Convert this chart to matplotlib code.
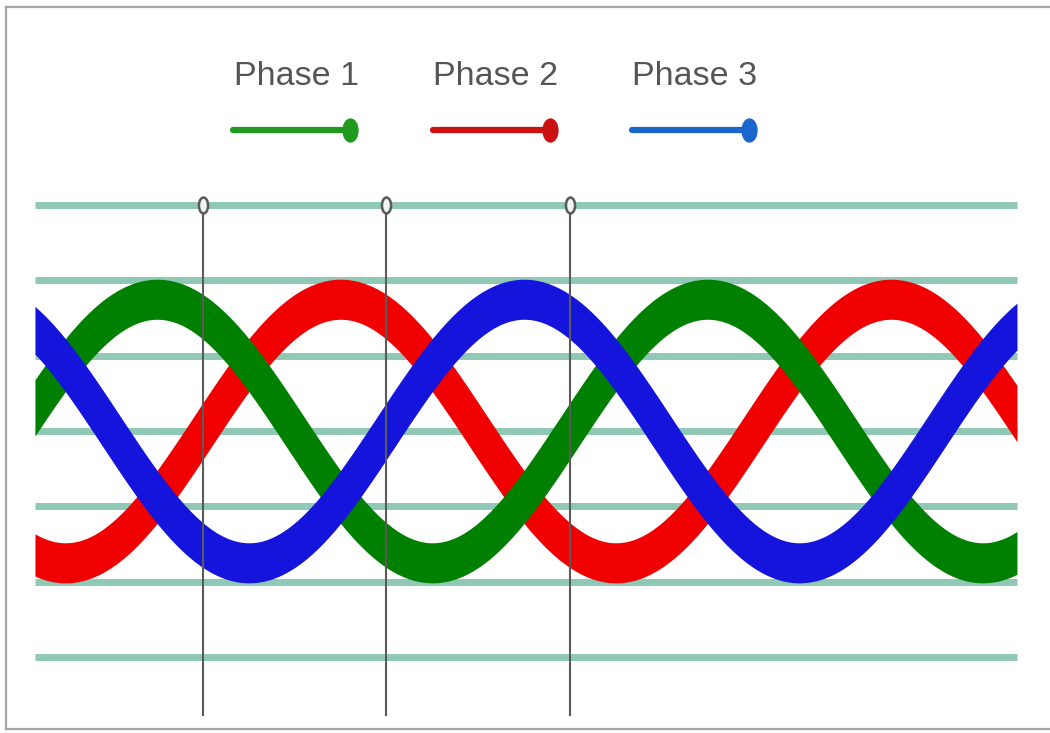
import numpy as np
import matplotlib.pyplot as plt
from matplotlib.path import Path
from matplotlib.lines import Line2D

# Data
phase_names = ['Phase 1', 'Phase 2', 'Phase 3']
phase_shift_deg = [0, 120, 240]
wave_colors = ['#008000', '#f00000', '#1414dc']
legend_colors = ['#1f9a1f', '#cc1111', '#1a66cc']
amplitude = 1.75
grid_levels = [3, 2, 1, 0, -1, -2, -3]
marker_angles = [120, 240, 360]
vline_bottom = -3.77
theta_start, theta_end = 10.1, 652.4

W, H = 1050, 733
fig = plt.figure(figsize=(W / 100, H / 100), dpi=100)
ax = fig.add_axes([0, 0, 1, 1])
ax.set_xlim(-12.75, 674)
ax.set_ylim(-4.01, 5.724)
ax.axis('off')

# horizontal teal lines
for lvl in grid_levels:
    ax.plot([theta_start, theta_end], [lvl, lvl], color='#8fc9b5', lw=5, zorder=1,
            solid_capstyle='butt')

theta = np.linspace(theta_start, theta_end, 1500)

# thick waves, drawn as bands (the picture is stretched vertically)
stroke = 26.7   # px
stretch = 1.5
order = [1, 0, 2]  # red under green under blue
for i in order:
    y = amplitude * np.sin(np.radians(theta - phase_shift_deg[i]))
    pts = ax.transData.transform(np.column_stack([theta, y]))
    slope = np.gradient(pts[:, 1], pts[:, 0])
    hv = stroke / 2 * np.sqrt(stretch ** 2 + slope ** 2)
    up = ax.transData.inverted().transform(np.column_stack([pts[:, 0], pts[:, 1] + hv]))
    lo = ax.transData.inverted().transform(np.column_stack([pts[:, 0], pts[:, 1] - hv]))
    ax.fill_between(theta, lo[:, 1], up[:, 1], color=wave_colors[i], lw=0, zorder=2 + order.index(i))

# vertical marker lines with small oval heads
oval = Path(Path.unit_circle().vertices * np.array([0.57, 1.0]), Path.unit_circle().codes)
for a in marker_angles:
    ax.plot([a, a], [vline_bottom, grid_levels[0]], color='#5a5a5a', lw=1.5, zorder=6)
    ax.plot([a], [grid_levels[0]], marker=oval, markersize=11.5, markerfacecolor='#eef5f2',
            markeredgecolor='#5a5a5a', markeredgewidth=1.8, zorder=7)

# legend: label above a line ending in a dot
leg_oval = Path(Path.unit_circle().vertices * np.array([0.65, 1.0]), Path.unit_circle().codes)
for i, name in enumerate(phase_names):
    cx = (296 + i * 199.5) / W
    fig.text(cx, 1 - 85 / H, name, ha='center', va='baseline', fontsize=24.5,
             color='#555555', family='Liberation Sans')
    x0, x1 = cx - 63 / W, cx + 54 / W
    yl = 1 - 130 / H
    fig.add_artist(Line2D([x0, x1], [yl, yl], color=legend_colors[i], lw=4.5,
                          solid_capstyle='round'))
    fig.add_artist(Line2D([x1], [yl], marker=leg_oval, markersize=16.5,
                          color=legend_colors[i], lw=0))

# thin frame
frame = '#a2a6aa'
fig.add_artist(Line2D([6 / W, 6 / W], [1 - 7 / H, 1 - 729 / H], color=frame, lw=1.6))
fig.add_artist(Line2D([6 / W, 1], [1 - 7 / H, 1 - 7 / H], color=frame, lw=1.6))
fig.add_artist(Line2D([6 / W, 1], [1 - 729 / H, 1 - 729 / H], color=frame, lw=1.6))

fig.savefig('out.png', dpi=100, facecolor='white')
